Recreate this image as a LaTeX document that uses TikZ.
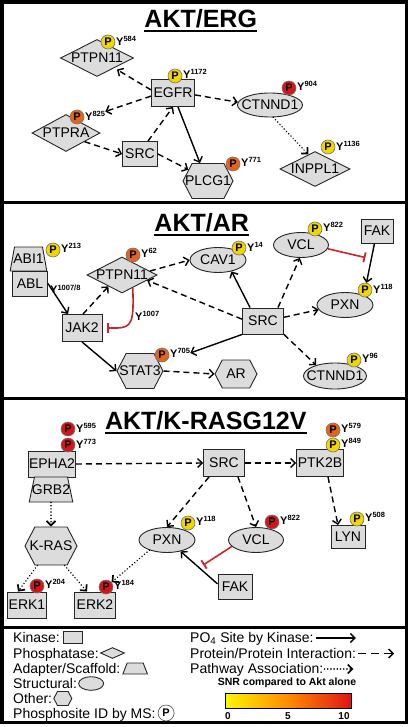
\documentclass[tikz,border=0pt]{standalone}
\usepackage{fontspec}
\setmainfont{Liberation Sans}
\usetikzlibrary{shapes.geometric,shapes.symbols,arrows.meta,calc}
\definecolor{ngray}{RGB}{220,220,220}
\definecolor{pyel}{RGB}{242,214,0}
\definecolor{pora}{RGB}{228,100,24}
\definecolor{pred}{RGB}{214,22,22}
\definecolor{inh}{RGB}{204,36,40}
\definecolor{barY}{RGB}{255,245,0}
\definecolor{barO}{RGB}{255,140,0}
\definecolor{barR}{RGB}{225,20,20}
\newcommand\fsz[1]{\fontsize{#1}{#1}\selectfont}
\newcommand\zc[1]{\hbox to 0pt{\hss#1\hss}}
\newcommand\zw[2]{\hbox to #1{\hss#2\hss}}
\newcommand\ysite[1]{Y\raisebox{3.3pt}{\fsz{7.5}#1}}
\begin{document}
\begin{tikzpicture}[x=1pt,y=-1pt,
  base/.style={draw=black!85, fill=ngray, line width=0.9pt, inner sep=0pt, font=\fsz{14}},
  kin/.style={base, rectangle},
  pho/.style={base, diamond},
  adp/.style={base, trapezium, trapezium left angle=#1, trapezium right angle=#1, trapezium stretches=true},
  strc/.style={base, ellipse},
  oth/.style={base, signal, signal to=west and east, signal pointer angle=125},
  pc/.style={circle, draw=black!55, line width=0.6pt, fill=#1, minimum size=14pt, inner sep=0pt, font=\bfseries\fsz{11}},
  yl/.style={anchor=west, inner sep=0pt, font=\bfseries\fsz{11}},
  arr/.style={draw=black, line width=1.4pt, -{Straight Barb[length=4.5pt,width=9pt]}},
  ks/.style={arr},
  pp/.style={arr, dash pattern=on 6pt off 4pt},
  pw/.style={arr, line width=1.7pt, line cap=round, dash pattern=on 0.01pt off 3.2pt},
  inhb/.style={draw=inh, line width=1.6pt, -{Bar[width=10pt,line width=1.8pt]}},
  ttl/.style={anchor=base, inner sep=0pt, font=\bfseries\fsz{25}},
  lg/.style={anchor=base west, inner sep=0pt, font=\fsz{14}},
]
\useasboundingbox (0,0) rectangle (409,727);
\fill[white] (0,0) rectangle (409,727);
% frame
\draw[line width=3.5pt] (2,2) rectangle (406.5,722.5);
\draw[line width=3pt] (2,202.5) -- (406.5,202.5);
\draw[line width=3pt] (2,398) -- (406.5,398);
\draw[line width=3pt] (2,627) -- (406.5,627);

% ================= Panel 1: AKT/ERG =================
\node[ttl] (t1) at (200.7,28) {AKT/ERG};
\draw[line width=2pt] ([yshift=-3.5pt]t1.base west) -- ([yshift=-3.5pt]t1.base east);
\node[pho, minimum width=73, minimum height=37] (ptpnA) at (97,58) {\zc{PTPN11}};
\node[kin, minimum width=43, minimum height=27] (egfr) at (173,93) {\zc{EGFR}};
\node[strc, minimum width=65, minimum height=24] (ctnA) at (270,105) {\zc{CTNND1}};
\node[pho, minimum width=68, minimum height=37] (ptpra) at (66,133) {\zc{PTPRA}};
\node[kin, minimum width=35, minimum height=25] (srcA) at (140,154) {\zc{SRC}};
\node[oth, minimum width=50, minimum height=35] (plcg) at (208,181) {\zc{PLCG1}};
\node[pho, minimum width=70, minimum height=35] (inppl) at (315,169) {\zc{INPPL1}};
\node[pc=pyel] (pPA) at (108,42) {P};   \node[yl] (yPA) at (116,41) {\ysite{584}};
\node[pc=pyel] (pEG) at (175,76) {P};   \node[yl] (yEG) at (183,74) {\ysite{1172}};
\node[pc=pred] (pCA) at (289,88) {P};   \node[yl] (yCA) at (297,86) {\ysite{904}};
\node[pc=pora] (pPR) at (77,117) {P};   \node[yl] (y825) at (85,116) {\ysite{825}};
\node[pc=pora] (pPL) at (233,164) {P};  \node[yl] (yPL) at (241,162) {\ysite{771}};
\node[pc=pyel] (pIN) at (328,147) {P};  \node[yl] (yIN) at (336,146) {\ysite{1136}};
\draw[pp, shorten >=3pt] (egfr.172) -- (ptpnA.-30);
\draw[pp] (egfr.188) -- (y825.north east);
\draw[pp] (egfr.-5) -- (ctnA.175);
\draw[pp] ([xshift=8pt]srcA.north) -- (egfr.south);
\draw[pp] (ptpra.-25) -- (srcA.west);
\draw[pp] (srcA.east) -- (plcg.150);
\draw[ks] ([xshift=5pt]egfr.south) -- ([xshift=-8pt]plcg.north);
\draw[pw] (ctnA.-75) -- (inppl.115);

% ================= Panel 2: AKT/AR =================
\node[ttl] (t2) at (201.7,231.5) {AKT/AR};
\draw[line width=2pt] ([yshift=-3.5pt]t2.base west) -- ([yshift=-3.5pt]t2.base east);
\node[adp=66, minimum height=24] (abi) at (28.5,259) {\zw{28pt}{ABI1}};
\node[kin, minimum width=35, minimum height=25] (abl) at (30,283.5) {\zc{ABL}};
\node[kin, minimum width=40, minimum height=27] (jak) at (82,328) {\zc{JAK2}};
\node[pho, minimum width=70, minimum height=36] (ptpnB) at (122,275) {\zc{PTPN11}};
\node[strc, minimum width=56, minimum height=25] (cav) at (218,260) {\zc{CAV1}};
\node[strc, minimum width=55, minimum height=25] (vclB) at (301,245) {\zc{VCL}};
\node[kin, minimum width=32, minimum height=24] (fakB) at (377,231) {\zc{FAK}};
\node[strc, minimum width=56, minimum height=25] (pxnB) at (345,305) {\zc{PXN}};
\node[kin, minimum width=41, minimum height=26] (srcB) at (263,321) {\zc{SRC}};
\node[oth, minimum width=46, minimum height=35] (stat) at (140,371) {\zc{STAT3}};
\node[oth, minimum width=42, minimum height=28] (ar) at (236,374) {\zc{AR}};
\node[strc, minimum width=63, minimum height=26] (ctnB) at (335,376) {\zc{CTNND1}};
\node[pc=pyel] (pAB) at (53,250) {P};   \node[yl] (yAB) at (61,248) {\ysite{213}};
\node[pc=pora] (pPB) at (133,255) {P};  \node[yl] (yPB) at (141,253) {\ysite{62}};
\node[pc=pyel] (pCV) at (239,248) {P};  \node[yl] (yCV) at (247,247) {\ysite{14}};
\node[pc=pyel] (pVB) at (315,229) {P};  \node[yl] (yVB) at (323,227) {\ysite{822}};
\node[pc=pyel] (pXB) at (365,290) {P};  \node[yl] (yXB) at (373,289) {\ysite{118}};
\node[pc=pora] (pST) at (162,355) {P};  \node[yl] (y705) at (170,353) {\ysite{705}};
\node[pc=pyel] (pCB) at (354,360) {P};  \node[yl] (yCB) at (362,358) {\ysite{96}};
\node[yl] (y1007a) at (50,289) {\ysite{1007/8}};
\node[yl] (y1007b) at (135,316) {\ysite{1007}};
\draw[ks] (abl.east) -- ([xshift=-14pt]jak.north);
\draw[pp] ([xshift=1pt]jak.north) -- (ptpnB.-140);
\draw[inhb, shorten >=5pt] (ptpnB.-50) .. controls (134,322) and (132,327.5) .. (117,328) -- (jak.east);
\draw[pp] (ptpnB.8) -- (cav.180);
\draw[pp] (srcB.175) -- (ptpnB.-12);
\draw[ks] ([xshift=-13pt]srcB.north) -- (cav.-40);
\draw[pp] ([xshift=15pt]srcB.north) -- (vclB.-95);
\draw[pp] (srcB.10) -- (pxnB.190);
\draw[pp] (srcB.south east) -- (ctnB.150);
\draw[ks] (srcB.south west) -- (y705.east);
\draw[ks] (jak.south) -- (stat.west);
\draw[pp] (stat.east) -- (ar.west);
\draw[ks] (fakB) -- (pXB);
\coordinate (m1) at ($(fakB.south)!0.4!(pXB.north)$);
\draw[inhb, shorten >=7pt] (vclB.-8) -- (m1);

% ================= Panel 3: AKT/K-RASG12V =================
\node[ttl] (t3) at (205.8,429) {AKT/K-RASG12V};
\draw[line width=2pt] ([yshift=-3.5pt]t3.base west) -- ([yshift=-3.5pt]t3.base east);
\node[kin, minimum width=47, minimum height=26] (epha) at (52,464) {\zc{EPHA2}};
\node[adp=62, minimum height=25] (grb) at (51,489.5) {\zw{33pt}{GRB2}};
\node[kin, minimum width=41, minimum height=27] (srcC) at (224,463) {\zc{SRC}};
\node[kin, minimum width=47, minimum height=27] (ptk) at (320,463) {\zc{PTK2B}};
\node[strc, minimum width=56, minimum height=25] (pxnC) at (167,540) {\zc{PXN}};
\node[strc, minimum width=55, minimum height=25] (vclC) at (256,540) {\zc{VCL}};
\node[kin, minimum width=34, minimum height=23] (lyn) at (348,537) {\zc{LYN}};
\node[oth, minimum width=52, minimum height=38] (kras) at (51,546) {\zc{K-RAS}};
\node[kin, minimum width=39, minimum height=26] (erkA) at (27,605) {\zc{ERK1}};
\node[kin, minimum width=41, minimum height=26] (erkB) at (95,605) {\zc{ERK2}};
\node[kin, minimum width=34, minimum height=25] (fakC) at (235,587) {\zc{FAK}};
\node[pc=pred] (pE1) at (68,429) {P};   \node[yl] (yE1) at (76,428) {\ysite{595}};
\node[pc=pred] (pE2) at (68,445) {P};   \node[yl] (yE2) at (76,444) {\ysite{773}};
\node[pc=pora] (pK1) at (333,430) {P};  \node[yl] (yK1) at (341,428) {\ysite{579}};
\node[pc=pyel] (pK2) at (333,445) {P};  \node[yl] (yK2) at (341,443) {\ysite{849}};
\node[pc=pyel] (pXC) at (188,523) {P};  \node[yl] (yXC) at (196,521) {\ysite{118}};
\node[pc=pred] (pVC) at (272,522) {P};  \node[yl] (yVC) at (280,520) {\ysite{822}};
\node[pc=pyel] (pLY) at (357,519) {P};  \node[yl] (yLY) at (365,517) {\ysite{508}};
\node[pc=pred] (pR1) at (37,586) {P};   \node[yl] (yR1) at (45,584) {\ysite{204}};
\node[pc=pred] (pR2) at (106,587) {P};  \node[yl] (yR2) at (114,585) {\ysite{184}};
\draw[pp] (epha.east) -- (srcC.west);
\draw[pp] (srcC.east) -- (ptk.west);
\draw[pp] ([xshift=-15pt]srcC.south) -- (pxnC.north);
\draw[pp] ([xshift=14pt]srcC.south) -- (vclC.north);
\draw[pp] ([xshift=8pt]ptk.south) -- ([xshift=-10pt]lyn.north);
\draw[pw] (grb.south) -- (kras.north);
\draw[pw] (kras.-125) -- ([xshift=-9pt]erkA.north);
\draw[pw] (kras.-55) -- ([xshift=-8pt]erkB.north);
\draw[pw] (pxnC.-150) -- (pR2);
\draw[ks] (fakC.170) -- (pxnC.-40);
\coordinate (m2) at ($(fakC.170)!0.5!(pxnC.-40)$);
\draw[inhb, shorten >=5pt] (vclC.-165) -- (m2);

% ================= Legend =================
\node[lg] (lk) at (13,642.5) {Kinase:};
\node[kin, minimum width=19, minimum height=12, anchor=west] (lkb) at ([xshift=3pt,yshift=5pt]lk.base east) {\zc{\vphantom{A}}};
\node[lg] (lph) at (13,658) {Phosphatase:};
\node[pho, minimum width=24, minimum height=11, anchor=west] (lphb) at ([xshift=1pt,yshift=5pt]lph.base east) {\zc{\vphantom{A}}};
\node[lg] (lad) at (13,673.5) {Adapter/Scaffold:};
\node[adp=66, minimum height=11, anchor=west] (ladb) at ([xshift=4pt,yshift=5pt]lad.base east) {\zw{16pt}{\vphantom{A}}};
\node[lg] (lst) at (13,688.5) {Structural:};
\node[strc, minimum width=25, minimum height=11, anchor=west] (lstb) at ([xshift=1pt,yshift=5pt]lst.base east) {\zc{\vphantom{A}}};
\node[lg] (lot) at (13,703.5) {Other:};
\node[oth, minimum width=18, minimum height=14, anchor=west] (lotb) at ([xshift=1pt,yshift=5pt]lot.base east) {\zc{\vphantom{A}}};
\node[lg] (lps) at (13,718) {Phosphosite ID by MS:};
\node[circle, draw=black!70, fill=white, line width=0.6pt, minimum size=16pt, inner sep=0pt, font=\bfseries\fsz{11}, anchor=west] (lpsb) at ([xshift=2pt,yshift=5pt]lps.base east) {P};

\node[lg] (lpo) at (190,642.5) {PO\textsubscript{4} Site by Kinase:};
\coordinate (la1) at ([xshift=2pt,yshift=4.5pt]lpo.base east);
\coordinate (la1e) at ([xshift=40pt]la1);
\draw[ks] (la1) -- (la1e);
\node[lg] (lpp) at (190,658) {Protein/Protein Interaction:};
\coordinate (la2) at ([xshift=2pt,yshift=4.5pt]lpp.base east);
\coordinate (la2e) at ([xshift=36pt]la2);
\draw[arr, dash pattern=on 8pt off 5pt] (la2) -- (la2e);
\node[lg] (lpa) at (190,673.5) {Pathway Association:};
\coordinate (la3) at ([xshift=1pt,yshift=4.5pt]lpa.base east);
\coordinate (la3e) at ([xshift=29pt]la3);
\draw[pw] (la3) -- (la3e);
\node[anchor=base, inner sep=0pt, font=\bfseries\fsz{10.5}] (snr) at (287,685) {SNR compared to Akt alone};
\node[draw=black, line width=0.8pt, minimum width=126pt, minimum height=15pt, inner sep=0pt,
      left color=barY, right color=barR, middle color=barO] (bar) at (288,700.5) {};
\node[anchor=base, inner sep=0pt, font=\bfseries\fsz{10}] (tk0) at (228,719) {0};
\node[anchor=base, inner sep=0pt, font=\bfseries\fsz{10}] (tk5) at (288,719) {5};
\node[anchor=base, inner sep=0pt, font=\bfseries\fsz{10}] (tk10) at (344,719) {10};
\end{tikzpicture}
\end{document}
